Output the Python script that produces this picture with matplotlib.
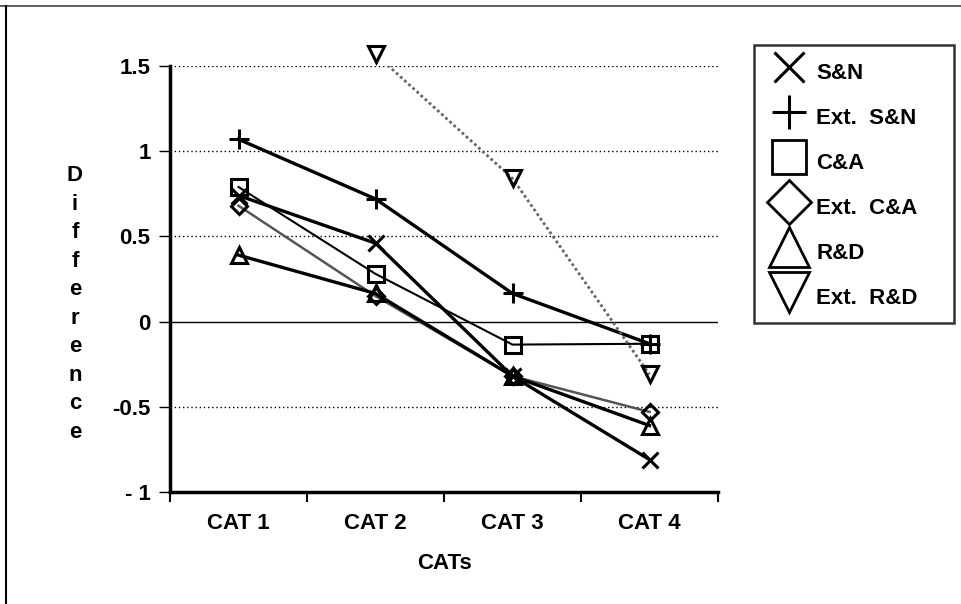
import matplotlib
matplotlib.use("Agg")
import matplotlib.pyplot as plt
from matplotlib.lines import Line2D

plt.rcParams['font.family'] = ['Liberation Sans', 'DejaVu Sans']
plt.rcParams['font.weight'] = 'bold'
plt.rcParams['axes.labelweight'] = 'bold'

# データ
cats = ["CAT 1", "CAT 2", "CAT 3", "CAT 4"]
sn = [0.74, 0.46, -0.32, -0.81]
ext_sn = [1.07, 0.72, 0.165, -0.13]
ca = [0.79, 0.28, -0.135, -0.13]
ext_ca = [0.68, 0.15, -0.32, -0.53]
rd = [0.39, 0.165, -0.32, -0.61]
ext_rd = [None, 1.57, 0.84, -0.31]

series_names = ["S&N", "Ext.  S&N", "C&A", "Ext.  C&A", "R&D", "Ext.  R&D"]
yticks = [-1, -0.5, 0, 0.5, 1, 1.5]
ytick_labels = ["- 1", "-0.5", "0", "0.5", "1", "1.5"]

fig = plt.figure(figsize=(9.61, 6.04), dpi=100)
ax = fig.add_axes([170/961, 1-492/604, (718-170)/961, (492-66)/604])

x = list(range(len(cats)))

# グリッド
for v in [1.5, 1, 0.5, -0.5]:
    ax.axhline(v, color='k', lw=1.0, ls=(0, (1, 2)), zorder=1)
ax.axhline(0, color='k', lw=1.0, zorder=1)

styles = [
    (sn, 'x', dict(color='k', lw=2.4), 12),
    (ext_sn, '+', dict(color='k', lw=2.4), 14),
    (ca, 's', dict(color='k', lw=1.5), 11),
    (ext_ca, 'D', dict(color='#555555', lw=1.8), 8),
    (rd, '^', dict(color='k', lw=2.4), 11),
    (ext_rd, 'v', dict(color='#666666', lw=2.0, ls=(0, (1, 1))), 11),
]
for vals, m, ls, ms in styles:
    xs = [i for i, v in zip(x, vals) if v is not None]
    ys = [v for v in vals if v is not None]
    ax.plot(xs, ys, zorder=3, **ls)
    ax.plot(xs, ys, ls='none', marker=m, ms=ms, mec='k', mfc='none',
            mew=2.2, zorder=4, clip_on=False)

ax.set_xlim(-0.5, 3.5)
ax.set_ylim(-1, 1.5)
ax.set_yticks(yticks)
ax.set_yticklabels(ytick_labels, fontsize=16)
ax.set_xticks(x)
ax.set_xticklabels(cats, fontsize=16)
ax.set_xticks([-0.5, 0.5, 1.5, 2.5, 3.5], minor=True)
ax.tick_params(axis='x', which='major', length=0, pad=15)
ax.tick_params(axis='x', which='minor', length=7, width=1.5, direction='out')
ax.tick_params(axis='y', length=8, width=1.0, direction='out', pad=6)

for s in ['top', 'right']:
    ax.spines[s].set_visible(False)
ax.spines['left'].set_linewidth(2.5)
ax.spines['bottom'].set_linewidth(2.5)

ax.set_xlabel("CATs", fontsize=16, labelpad=14)

# 縦書きラベル
fig.text(75/961, 1-304/604, "\n".join("Difference"), fontsize=16,
         ha='center', va='center', linespacing=1.47)

# 凡例
handles = [
    Line2D([], [], ls='none', marker='x', ms=22, mew=2.2, color='k'),
    Line2D([], [], ls='none', marker='+', ms=25, mew=2.2, color='k'),
    Line2D([], [], ls='none', marker='s', ms=25, mew=2.0, mec='k', mfc='none'),
    Line2D([], [], ls='none', marker='D', ms=22, mew=2.0, mec='k', mfc='none'),
    Line2D([], [], ls='none', marker='^', ms=29, mew=2.0, mec='k', mfc='none'),
    Line2D([], [], ls='none', marker='v', ms=29, mew=2.0, mec='k', mfc='none'),
]
x0, x1 = 754/961, 954/961
y1 = 1-45/604
leg = fig.legend(handles, series_names, loc='upper left',
                 bbox_to_anchor=(x0, y1 - 0.5, x1 - x0, 0.5), mode='expand',
                 fontsize=16, frameon=True, fancybox=False, edgecolor='k',
                 handlelength=2.25, handleheight=1.9, handletextpad=0.1,
                 labelspacing=0.55, borderpad=0.45, borderaxespad=0)
leg.get_frame().set_linewidth(1.8)

# 外枠 (上と左のみ)
fig.add_artist(Line2D([0, 1], [1-6/604, 1-6/604], transform=fig.transFigure,
                      color='#444444', lw=1.2))
fig.add_artist(Line2D([6/961, 6/961], [0, 1-6/604], transform=fig.transFigure,
                      color='k', lw=1.5))

plt.savefig("out.png", dpi=100)
